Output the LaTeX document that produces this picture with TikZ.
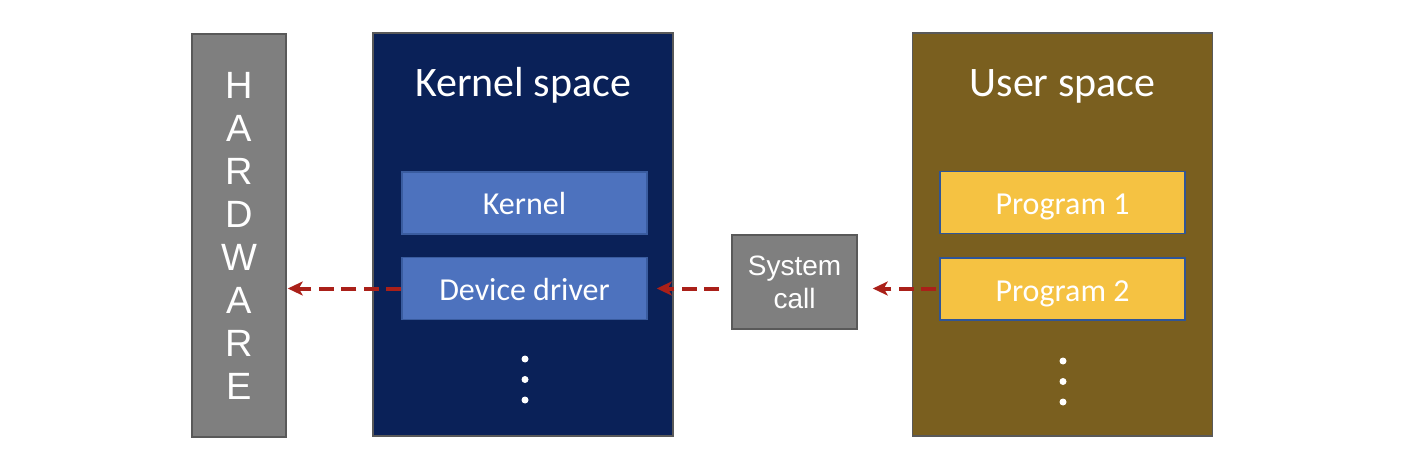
\documentclass[tikz,border=0pt]{standalone}
\usepackage{fontspec}
\setmainfont{Carlito}
\newfontfamily\arialfont{Liberation Sans}
\usetikzlibrary{arrows.meta}
\definecolor{hwgray}{HTML}{7F7F7F}
\definecolor{edgegray}{HTML}{595959}
\definecolor{kernnavy}{HTML}{0A2158}
\definecolor{kernblue}{HTML}{4D72BE}
\definecolor{kernedge}{HTML}{3A5C9F}
\definecolor{userbrown}{HTML}{7A5F1F}
\definecolor{proggold}{HTML}{F5C242}
\definecolor{progedge}{HTML}{2F5597}
\definecolor{callred}{HTML}{AA2019}
\begin{document}
\begin{tikzpicture}[x=1pt,y=-1pt,
    spacebox/.style={draw=edgegray,line width=1.5pt,minimum width=300pt,minimum height=403pt,inner sep=0pt},
    innerbox/.style={line width=1.5pt,minimum width=245pt,minimum height=62pt,inner sep=0pt,text height=24pt,text depth=0pt,
                     text=white,font=\fontsize{32}{38}\selectfont},
    titletext/.style={anchor=base,text=white,font=\fontsize{42}{50}\selectfont},
    callarrow/.style={draw=callred,line width=4pt,dash pattern=on 15pt off 7.5pt,-{Stealth[length=15pt,width=14pt,inset=4pt]}}]
        \useasboundingbox (0,0) rectangle (1412,462);

        % hardware column
        \node[draw=edgegray,fill=hwgray,line width=1.5pt,minimum width=94pt,minimum height=403pt,inner sep=0pt,
              text=white,align=center,font=\arialfont\fontsize{38}{43}\selectfont] (hw) at (239,235.5)
              {H\\A\\R\\D\\W\\A\\R\\E};

        % kernel space
        \node[spacebox,fill=kernnavy] (kspace) at (523,234.5) {};
        \node[titletext] (ktitle) at (523,97) {Kernel space};
        \node[innerbox,draw=kernedge,fill=kernblue] (kern) at (524.5,203) {Kernel};
        \node[innerbox,draw=kernedge,fill=kernblue] (drv) at (524.5,288.5) {Device driver};

        % system call
        \node[draw=edgegray,fill=hwgray,line width=1.5pt,minimum width=125pt,minimum height=94pt,inner sep=0pt,
              text=white,align=center,font=\arialfont\fontsize{28}{33}\selectfont] (syscall) at (794.5,282)
              {System\\call};

        % user space
        \node[spacebox,fill=userbrown] (uspace) at (1062.5,234.5) {};
        \node[titletext] (utitle) at (1062.5,97) {User space};
        \node[innerbox,draw=progedge,fill=proggold] (prog1) at (1062.5,202.5) {Program 1};
        \node[innerbox,draw=progedge,fill=proggold] (prog2) at (1062.5,289) {Program 2};

        % dots
        \fill[white] (525,359) circle (3.5pt) (525,379.5) circle (3.5pt) (525,400) circle (3.5pt);
        \fill[white] (1063,361) circle (3.5pt) (1063,381.5) circle (3.5pt) (1063,402) circle (3.5pt);

        % calls
        \draw[callarrow,shorten >=1pt] (drv.west) -- (drv.west -| hw.east);
        \draw[callarrow,shorten <=12pt,shorten >=9pt] (drv.east -| syscall.west) -- (drv.east);
        \draw[callarrow,shorten <=3pt,shorten >=15pt] (prog2.west |- drv.east) -- (drv.east -| syscall.east);
    \end{tikzpicture}
\end{document}
